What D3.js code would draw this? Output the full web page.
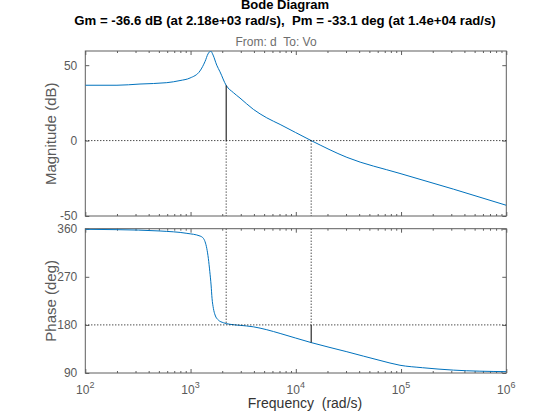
<!DOCTYPE html>
<html>
<head>
<meta charset="utf-8">
<script src="https://cdn.jsdelivr.net/npm/d3@7"></script>
<style>
body { margin: 0; background: #fff; }
svg { display: block; font-family: "Liberation Sans", Arial, sans-serif; }
</style>
</head>
<body>
<script>
// magnitude curve (rad/s, dB)
var magFreq = [100, 200, 331, 594, 794, 989, 1230, 1374, 1466, 1556, 1637, 1774, 1905, 2180, 2553, 2951, 3954, 5297, 7096, 14000, 30550, 97700, 314800, 1000000];
var magDb = [36.7, 36.7, 37.5, 38.4, 39.8, 41.5, 46.2, 52.5, 57.5, 59.3, 56.7, 50.0, 45.6, 36.6, 31.8, 28.2, 20.7, 15.1, 10.7, 0, -11.1, -21.8, -32.2, -42.9];

// phase curve (rad/s, deg)
var phFreq = [100, 200, 513, 923, 1230, 1324, 1374, 1426, 1476, 1524, 1567, 1600, 1648, 1710, 1837, 2051, 2371, 2951, 3954, 5297, 7096, 14000, 30550, 63100, 97700, 160000, 314800, 1000000];
var phDeg = [358.9, 358.2, 355.7, 351.3, 346.3, 342, 335.6, 323.2, 304.5, 279.6, 254.7, 229.7, 211, 198.5, 189.1, 184.1, 181.1, 179.2, 176.4, 171.0, 164.0, 146.9, 129.8, 113.5, 104.5, 99.9, 95.4, 92.5];

// margins
var gmDb = -36.6, gmFreq = 2180;
var pmDeg = -33.1, pmFreq = 14000;

var xTicks = [1e2, 1e3, 1e4, 1e5, 1e6];
var magTicks = [-50, 0, 50];
var phTicks = [90, 180, 270, 360];

var w = 560, h = 420;
var left = 85.3, right = 506.3;
var axCol = "#5e5e5e", txtCol = "#5a5a5a", lineCol = "#0072bd";

var svg = d3.select("body").append("svg")
	.attr("width", w)
	.attr("height", h);

var x = d3.scaleLog().domain([1e2, 1e6]).range([left, right]);
var yMag = d3.scaleLinear().domain([-50, 59.4]).range([216, 51]);
var yPh = d3.scaleLinear().domain([90, 360]).range([373, 228.7]);

// minor ticks 2..9 per decade
var minors = [];
for (var e = 2; e < 6; e++) {
	for (var k = 2; k < 10; k++) minors.push(k * Math.pow(10, e));
}

function panel(id, y, ticks, fr, vals) {
	var top = y.range()[1], bot = y.range()[0];

	svg.append("clipPath").attr("id", id)
		.append("rect")
		.attr("x", left).attr("y", top)
		.attr("width", right - left).attr("height", bot - top);

	var g = svg.append("g");

	// ticks on all four sides, pointing inwards
	g.append("g").attr("transform", "translate(0," + bot + ")")
		.call(d3.axisBottom(x).tickValues(xTicks).tickSizeInner(-4).tickSizeOuter(0).tickFormat(""));
	g.append("g").attr("transform", "translate(0," + bot + ")")
		.call(d3.axisBottom(x).tickValues(minors).tickSizeInner(-2).tickSizeOuter(0).tickFormat(""));
	g.append("g").attr("transform", "translate(0," + top + ")")
		.call(d3.axisTop(x).tickValues(xTicks).tickSizeInner(-4).tickSizeOuter(0).tickFormat(""));
	g.append("g").attr("transform", "translate(0," + top + ")")
		.call(d3.axisTop(x).tickValues(minors).tickSizeInner(-2).tickSizeOuter(0).tickFormat(""));
	g.append("g").attr("transform", "translate(" + left + ",0)")
		.call(d3.axisLeft(y).tickValues(ticks).tickSizeInner(-4).tickSizeOuter(0).tickPadding(8)
			.tickFormat(function(d) { return String(d); }));
	g.append("g").attr("transform", "translate(" + right + ",0)")
		.call(d3.axisRight(y).tickValues(ticks).tickSizeInner(-4).tickSizeOuter(0).tickFormat(""));

	g.selectAll(".domain").remove();
	g.selectAll(".tick line").attr("stroke", axCol);
	g.selectAll(".tick text")
		.attr("fill", txtCol)
		.attr("font-size", "12px")
		.attr("font-family", "'Liberation Sans', Arial, sans-serif");

	svg.append("rect")
		.attr("x", left).attr("y", top)
		.attr("width", right - left).attr("height", bot - top)
		.attr("fill", "none")
		.attr("stroke", axCol)
		.attr("stroke-width", 1);

	var pts = fr.map(function(f, i) { return [f, vals[i]]; });
	var line = d3.line()
		.x(function(d) { return x(d[0]); })
		.y(function(d) { return y(d[1]); })
		.curve(d3.curveMonotoneX);

	var c = svg.append("g").attr("clip-path", "url(#" + id + ")");
	c.append("path")
		.datum(pts)
		.attr("d", line)
		.attr("fill", "none")
		.attr("stroke", lineCol)
		.attr("stroke-width", 1);
	return c;
}

var gMag = panel("clipMag", yMag, magTicks, magFreq, magDb);
var gPh = panel("clipPh", yPh, phTicks, phFreq, phDeg);

function dotted(g, x1, y1, x2, y2) {
	g.append("line")
		.attr("x1", x1).attr("y1", y1)
		.attr("x2", x2).attr("y2", y2)
		.attr("stroke", "#000")
		.attr("stroke-width", 1)
		.attr("stroke-dasharray", "1,2");
}
function solid(g, x1, y1, x2, y2) {
	g.append("line")
		.attr("x1", x1).attr("y1", y1)
		.attr("x2", x2).attr("y2", y2)
		.attr("stroke", "#000")
		.attr("stroke-width", 1);
}

// magnitude: 0 dB line, gain margin bar, crossover dots
dotted(gMag, left, yMag(0), right, yMag(0));
dotted(gMag, x(gmFreq), yMag(0), x(gmFreq), yMag.range()[0]);
dotted(gMag, x(pmFreq), yMag(0), x(pmFreq), yMag.range()[0]);
solid(gMag, x(gmFreq), yMag(0), x(gmFreq), yMag(-gmDb));

// phase: 180 line, phase margin bar
dotted(gPh, left, yPh(180), right, yPh(180));
dotted(gPh, x(gmFreq), yPh.range()[1], x(gmFreq), yPh(180));
dotted(gPh, x(pmFreq), yPh.range()[1], x(pmFreq), yPh(180));
solid(gPh, x(pmFreq), yPh(180), x(pmFreq), yPh(180 + pmDeg));

// x tick labels 10^n under the phase plot
var xl = svg.append("g")
	.attr("font-size", "12px")
	.attr("fill", txtCol)
	.selectAll("text")
	.data(xTicks)
	.enter()
	.append("text")
	.attr("x", function(d) { return x(d); })
	.attr("y", 394)
	.attr("text-anchor", "middle");
xl.append("tspan").text("10");
xl.append("tspan")
	.attr("dy", -6)
	.attr("font-size", "9px")
	.text(function(d) { return Math.round(Math.log10(d)); });

// axis labels
svg.append("text")
	.attr("transform", "translate(56," + (yMag(4.5)) + ") rotate(-90)")
	.attr("text-anchor", "middle")
	.attr("font-size", "15px")
	.attr("fill", txtCol)
	.text("Magnitude (dB)");

svg.append("text")
	.attr("transform", "translate(56," + (yPh(225)) + ") rotate(-90)")
	.attr("text-anchor", "middle")
	.attr("font-size", "15px")
	.attr("fill", txtCol)
	.text("Phase (deg)");

svg.append("text")
	.attr("x", 305)
	.attr("y", 408)
	.attr("text-anchor", "middle")
	.attr("font-size", "14px")
	.attr("fill", "#333")
	.style("white-space", "pre")
	.text("Frequency  (rad/s)");

// titles
svg.append("text")
	.attr("x", 285).attr("y", 9)
	.attr("text-anchor", "middle")
	.attr("font-size", "13px")
	.attr("font-weight", "bold")
	.text("Bode Diagram");

svg.append("text")
	.attr("x", 285).attr("y", 25)
	.attr("text-anchor", "middle")
	.attr("font-size", "13.2px")
	.attr("font-weight", "bold")
	.style("white-space", "pre")
	.text("Gm = " + gmDb + " dB (at 2.18e+03 rad/s),  Pm = " + pmDeg + " deg (at 1.4e+04 rad/s)");

svg.append("text")
	.attr("x", 276).attr("y", 46)
	.attr("text-anchor", "middle")
	.attr("font-size", "12px")
	.attr("fill", "#6e6e6e")
	.style("white-space", "pre")
	.text("From: d  To: Vo");
</script>
</body>
</html>
